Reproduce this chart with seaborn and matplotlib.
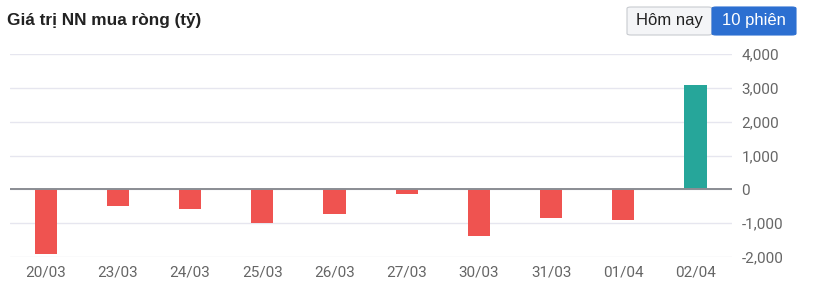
import matplotlib
matplotlib.use("Agg")
import matplotlib.pyplot as plt
from matplotlib.patches import FancyBboxPatch
from matplotlib.ticker import FuncFormatter
import seaborn as sns
import pandas as pd

dates = ["20/03", "23/03", "24/03", "25/03", "26/03", "27/03", "30/03", "31/03", "01/04", "02/04"]
values = [-1900, -500, -570, -1000, -730, -140, -1370, -840, -920, 3070]
y_ticks = [-2000, -1000, 0, 1000, 2000, 3000, 4000]

sns.set_theme(style="white")
plt.rcParams["font.family"] = ["Roboto", "DejaVu Sans"]

df = pd.DataFrame({"date": dates, "value": values})
df["sign"] = ["pos" if v >= 0 else "neg" for v in values]

fig = plt.figure(figsize=(8.2, 3.03), dpi=100)
ax = fig.add_axes([9.6 / 820, 1 - 257 / 303, 722 / 820, 203 / 303])

sns.barplot(data=df, x="date", y="value", hue="sign",
            palette={"pos": "#26a69a", "neg": "#ef5350"}, saturation=1,
            dodge=False, width=0.31, legend=False, ax=ax, zorder=3,
            edgecolor=None, linewidth=0)

ax.set_ylim(-2000, 4000)
ax.set_xlim(-0.5, len(dates) - 0.5)
ax.set_yticks(y_ticks)
ax.yaxis.set_major_formatter(FuncFormatter(lambda v, p: f"{int(v):,}"))
ax.yaxis.tick_right()
ax.grid(axis="y", color="#e6e6ef", linewidth=1, zorder=0)
ax.grid(axis="x", visible=False)
ax.axhline(0, color="#8a8d93", linewidth=1.4, zorder=4)
for s in ax.spines.values():
    s.set_visible(False)
ax.tick_params(axis="y", length=0, pad=7, labelsize=11, labelcolor="#666666")
ax.tick_params(axis="x", length=0, pad=6, labelsize=11, labelcolor="#666666")
ax.set_xlabel("")
ax.set_ylabel("")

fig.text(7 / 820, 1 - 20 / 303, "Giá trị NN mua ròng (tỷ)", fontsize=12.4, fontweight="bold",
         color="#222222", va="center", ha="left", family=["Liberation Sans", "DejaVu Sans"])

# Buttons
b1 = FancyBboxPatch((627 / 820, 1 - 35 / 303), 85 / 820, 28 / 303,
                    boxstyle="round,pad=0,rounding_size=0.005", transform=fig.transFigure,
                    facecolor="#f4f5f7", edgecolor="#c8cbd0", linewidth=0.8)
b2 = FancyBboxPatch((712 / 820, 1 - 35 / 303), 84 / 820, 28 / 303,
                    boxstyle="round,pad=0,rounding_size=0.005", transform=fig.transFigure,
                    facecolor="#2c6fd1", edgecolor="#2c6fd1", linewidth=0.8)
fig.patches.extend([b1, b2])
fig.text(669.5 / 820, 1 - 21 / 303, "Hôm nay", fontsize=12, color="#222222", ha="center", va="center",
         family=["Liberation Sans", "DejaVu Sans"])
fig.text(754 / 820, 1 - 21 / 303, "10 phiên", fontsize=12, color="white", ha="center", va="center",
         family=["Liberation Sans", "DejaVu Sans"])

fig.savefig("out.png", dpi=100)
